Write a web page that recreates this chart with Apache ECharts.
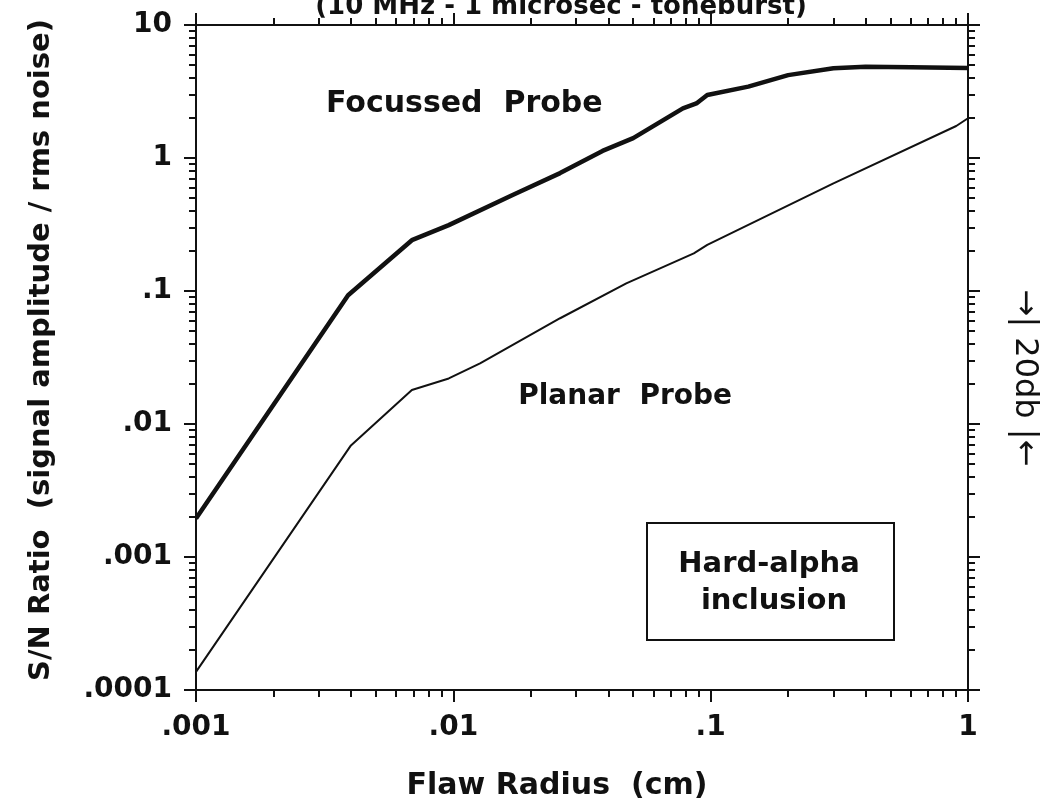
<!DOCTYPE html>
<html>
<head>
<meta charset="utf-8">
<script src="https://cdn.jsdelivr.net/npm/echarts@6.0.0/dist/echarts.min.js"></script>
<style>
  html, body { margin: 0; padding: 0; background: #fff; }
  #chart { width: 1054px; height: 812px; }
</style>
</head>
<body>
<div id="chart"></div>
<script>
// axis ticks (log decades) and their printed labels
const xMajor = [0.001, 0.01, 0.1, 1];
const xMajorLabels = ['.001', '.01', '.1', '1'];
const yMajor = [0.0001, 0.001, 0.01, 0.1, 1, 10];
const yMajorLabels = ['.0001', '.001', '.01', '.1', '1', '10'];
const minorSteps = [2, 3, 4, 5, 6, 7, 8, 9];

// Focussed probe (thick curve)
const focussedX = [0.001, 0.0039, 0.0069, 0.0096, 0.017, 0.026, 0.038, 0.05, 0.078, 0.088, 0.097, 0.14, 0.2, 0.3, 0.4, 0.6, 1];
const focussedY = [0.00195, 0.093, 0.241, 0.313, 0.527, 0.77, 1.13, 1.41, 2.36, 2.57, 2.98, 3.44, 4.2, 4.73, 4.86, 4.82, 4.75];

// Planar probe (thin curve)
const planarX = [0.001, 0.004, 0.0069, 0.0096, 0.0127, 0.026, 0.047, 0.086, 0.097, 0.3, 0.9, 1];
const planarY = [0.000137, 0.0069, 0.018, 0.022, 0.0286, 0.0624, 0.114, 0.192, 0.222, 0.645, 1.74, 1.99];

const ink = '#111';
const fontFamily = '"DejaVu Sans", sans-serif';

// minor ticks 2..9 inside each decade
function minorTicks(major) {
  const out = [];
  major.slice(0, -1).forEach(d => minorSteps.forEach(s => out.push(d * s)));
  return out;
}
function labelFor(values, labels) {
  return v => {
    const i = values.findIndex(t => Math.abs(Math.log10(t / v)) < 1e-6);
    return i < 0 ? '' : labels[i];
  };
}

const xMinor = minorTicks(xMajor);
const yMinor = minorTicks(yMajor);

const chart = echarts.init(document.getElementById('chart'));

// one axis per side for the frame + short ticks, a second one for long decade ticks
function xAx(pos, ticks, len, withLine, withLabel) {
  return {
    type: 'log', logBase: 10, min: 0.001, max: 1, position: pos,
    axisLine: { show: withLine, lineStyle: { color: ink, width: 2 } },
    axisTick: { show: true, inside: false, length: len, customValues: ticks, lineStyle: { color: ink, width: 2 } },
    axisLabel: withLabel ? {
      show: true, customValues: xMajor, formatter: labelFor(xMajor, xMajorLabels),
      margin: 24, color: ink, fontFamily: fontFamily, fontWeight: 'bold', fontSize: 28,
      showMinLabel: true, showMaxLabel: true
    } : { show: false },
    splitLine: { show: false }
  };
}
function yAx(pos, ticks, len, withLine, withLabel) {
  return {
    type: 'log', logBase: 10, min: 0.0001, max: 10, position: pos,
    axisLine: { show: withLine, lineStyle: { color: ink, width: 2 } },
    axisTick: { show: true, inside: false, length: len, customValues: ticks, lineStyle: { color: ink, width: 2 } },
    axisLabel: withLabel ? {
      show: true, customValues: yMajor, formatter: labelFor(yMajor, yMajorLabels),
      margin: 24, color: ink, fontFamily: fontFamily, fontWeight: 'bold', fontSize: 28,
      showMinLabel: true, showMaxLabel: true
    } : { show: false },
    splitLine: { show: false }
  };
}

const option = {
  backgroundColor: '#fff',
  animation: false,
  grid: { left: 196, right: 86, top: 25, bottom: 122, containLabel: false, outerBoundsMode: 'none' },
  xAxis: [
    xAx('bottom', xMinor, 7, true, true),
    xAx('bottom', xMajor, 12, false, false),
    xAx('top', xMinor, 7, true, false),
    xAx('top', xMajor, 12, false, false)
  ],
  yAxis: [
    yAx('left', yMinor, 7, true, true),
    yAx('left', yMajor, 12, false, false),
    yAx('right', yMinor, 7, true, false),
    yAx('right', yMajor, 12, false, false)
  ],
  series: [
    {
      name: 'Focussed Probe', type: 'line', xAxisIndex: 0, yAxisIndex: 0,
      data: focussedX.map((x, i) => [x, focussedY[i]]),
      showSymbol: false, lineStyle: { color: ink, width: 4.5 }
    },
    {
      name: 'Planar Probe', type: 'line', xAxisIndex: 0, yAxisIndex: 0,
      data: planarX.map((x, i) => [x, planarY[i]]),
      showSymbol: false, lineStyle: { color: ink, width: 2 }
    }
  ],
  graphic: [
    // top title (cut off in the scan)
    { type: 'text', x: 561, y: 20, style: { text: '(10 MHz - 1 microsec - toneburst)', font: 'bold 26px ' + fontFamily, fill: ink, align: 'center', verticalAlign: 'bottom', textAlign: 'center', textVerticalAlign: 'bottom' } },
    // axis titles
    { type: 'text', x: 41, y: 350, rotation: Math.PI / 2, style: { text: 'S/N Ratio  (signal amplitude / rms noise)', font: 'bold 29px ' + fontFamily, fill: ink, align: 'center', verticalAlign: 'middle', textAlign: 'center', textVerticalAlign: 'middle' } },
    { type: 'text', x: 557, y: 786, style: { text: 'Flaw Radius  (cm)', font: 'bold 30px ' + fontFamily, fill: ink, align: 'center', verticalAlign: 'middle', textAlign: 'center', textVerticalAlign: 'middle' } },
    { type: 'text', x: 1024, y: 378, rotation: -Math.PI / 2, style: { text: '→| 20db |←', font: '32px ' + fontFamily, fill: ink, align: 'center', verticalAlign: 'middle', textAlign: 'center', textVerticalAlign: 'middle' } },
    // curve labels
    { type: 'text', x: 326, y: 104, style: { text: 'Focussed  Probe', font: 'bold 30px ' + fontFamily, fill: ink, align: 'left', verticalAlign: 'middle', textAlign: 'left', textVerticalAlign: 'middle' } },
    { type: 'text', x: 732, y: 397, style: { text: 'Planar  Probe', font: 'bold 28px ' + fontFamily, fill: ink, align: 'right', verticalAlign: 'middle', textAlign: 'right', textVerticalAlign: 'middle' } },
    // inclusion box
    { type: 'rect', shape: { x: 647, y: 523, width: 247, height: 117 }, style: { fill: 'none', stroke: ink, lineWidth: 2 } },
    { type: 'text', x: 769, y: 564, style: { text: 'Hard-alpha', font: 'bold 29px ' + fontFamily, fill: ink, align: 'center', verticalAlign: 'middle', textAlign: 'center', textVerticalAlign: 'middle' } },
    { type: 'text', x: 774, y: 601, style: { text: 'inclusion', font: 'bold 29px ' + fontFamily, fill: ink, align: 'center', verticalAlign: 'middle', textAlign: 'center', textVerticalAlign: 'middle' } }
  ]
};

chart.setOption(option);
</script>
</body>
</html>
